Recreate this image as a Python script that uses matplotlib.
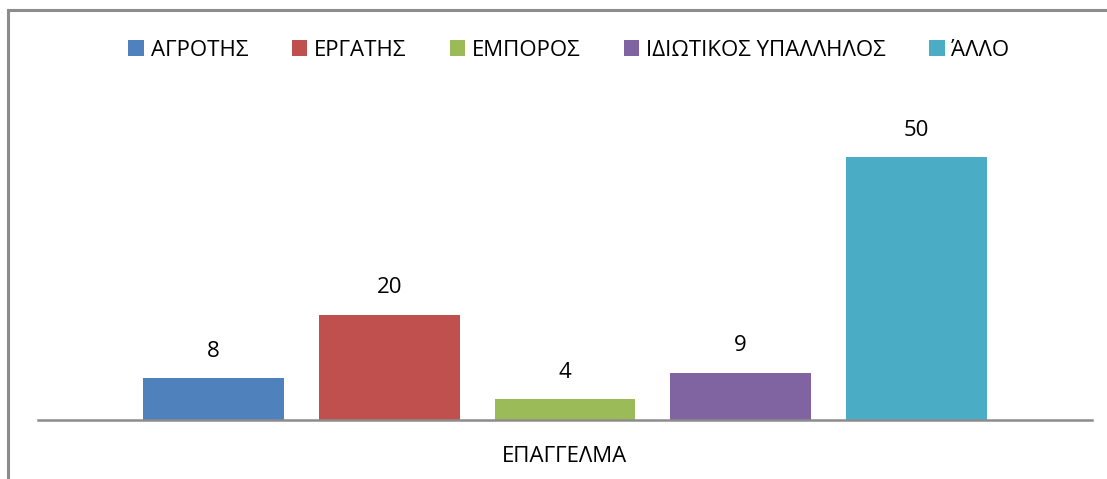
import matplotlib.pyplot as plt
from matplotlib.patches import Rectangle

# data
categories = ['ΑΓΡΟΤΗΣ', 'ΕΡΓΑΤΗΣ', 'ΕΜΠΟΡΟΣ', 'ΙΔΙΩΤΙΚΟΣ ΥΠΑΛΛΗΛΟΣ', 'ΆΛΛΟ']
values = [8, 20, 4, 9, 50]
colors = ['#4F81BD', '#C0504D', '#9BBB59', '#8064A2', '#4BACC6']
xlabel = 'ΕΠΑΓΓΕΛΜΑ'

plt.rcParams['font.family'] = ['Open Sans', 'DejaVu Sans']

W, H = 1107, 479
fig = plt.figure(figsize=(W / 100, H / 100), dpi=100)

# outer chart frame (cut off on right/bottom like the screenshot)
fig.patches.append(Rectangle((8 / W, -0.1), 1.2, (H - 10) / H + 0.1,
                             transform=fig.transFigure, fill=False,
                             edgecolor='#8c8c8c', linewidth=2.2))

ax_h = 420 - 104.4
ax = fig.add_axes([38 / W, 59 / H, (1092 - 38) / W, ax_h / H])
handles = []
for i, (c, v, col) in enumerate(zip(categories, values, colors)):
    b = ax.bar(i, v, width=0.8, color=col, label=c, zorder=2)
    handles.append(b)
    ax.text(i, v + 5.1, str(v), ha='center', va='center', fontsize=16)

ax.set_xlim(-1.0, 5.0)
ax.set_ylim(0, 60)
for s in ['top', 'right', 'left']:
    ax.spines[s].set_visible(False)
ax.spines['bottom'].set_color('#8c8c8c')
ax.spines['bottom'].set_linewidth(1.8)
ax.set_xticks([])
ax.set_yticks([])
ax.set_xlabel(xlabel, fontsize=16, va='center')
ax.xaxis.set_label_coords(0.5, -37 / ax_h)

fig.legend(handles=handles, labels=categories, loc='center',
           bbox_to_anchor=(569 / W, 1 - 50 / H), ncol=5, frameon=False,
           fontsize=16, handlelength=0.7, handleheight=0.7,
           handletextpad=0.3, columnspacing=1.95)

fig.savefig('out.png', dpi=100)
